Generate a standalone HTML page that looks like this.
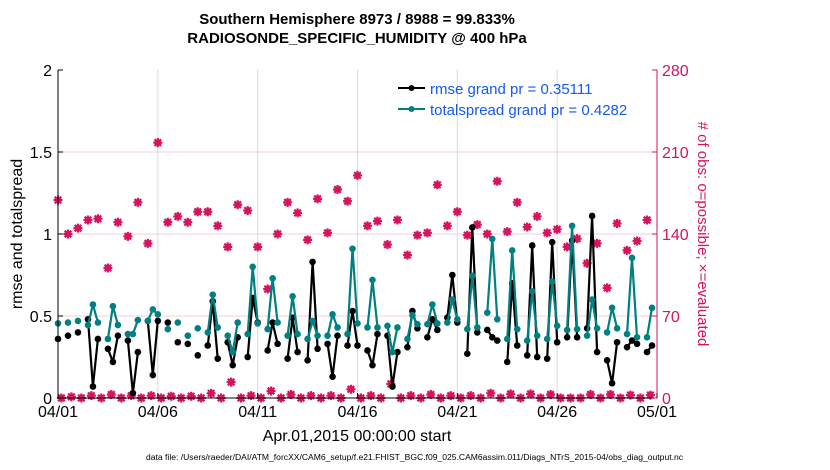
<!DOCTYPE html>
<html><head><meta charset="utf-8"><style>
body{margin:0;background:#fff;}
svg{display:block;font-family:"Liberation Sans",Arial,sans-serif;}
</style></head><body>
<svg id="chart" width="830" height="470" viewBox="0 0 830 470" xmlns="http://www.w3.org/2000/svg">
<g id="grid"></g>
<g id="marks"></g>
<g id="axes"></g>
<text x="357" y="24" text-anchor="middle" font-size="15" font-weight="bold">Southern Hemisphere 8973 / 8988 = 99.833%</text>
<text x="357" y="43" text-anchor="middle" font-size="15" font-weight="bold">RADIOSONDE_SPECIFIC_HUMIDITY @ 400 hPa</text>
<text transform="translate(22,234) rotate(-90)" text-anchor="middle" font-size="16">rmse and totalspread</text>
<text transform="translate(698,234) rotate(90)" text-anchor="middle" font-size="15" fill="#d6135e"># of obs: o=possible; ×=evaluated</text>
<text x="357" y="441" text-anchor="middle" font-size="16">Apr.01,2015 00:00:00 start</text>
<text x="146" y="460" font-size="8" textLength="537" lengthAdjust="spacingAndGlyphs">data file: /Users/raeder/DAI/ATM_forcXX/CAM6_setup/f.e21.FHIST_BGC.f09_025.CAM6assim.011/Diags_NTrS_2015-04/obs_diag_output.nc</text>
<g>
<line x1="398" y1="88" x2="425" y2="88" stroke="#000" stroke-width="2"/><circle cx="411.5" cy="88" r="3" fill="#000"/>
<text x="430" y="94" font-size="15" fill="#1459f0">rmse grand pr = 0.35111</text>
<line x1="398" y1="109" x2="425" y2="109" stroke="#008080" stroke-width="2"/><circle cx="411.5" cy="109" r="3" fill="#008080"/>
<text x="430" y="115" font-size="15" fill="#1459f0">totalspread grand pr = 0.4282</text>
</g>
</svg>
<script>
const slots=[0,2,4,6,7,8,10,11,12,14,15,16,18,19,20,22,24,26,28,30,31,32,34,35,36,38,39,40,42,43,44,46,47,48,50,51,52,54,55,56,58,59,60,62,63,64,66,67,68,70,71,72,74,75,76,78,79,80,82,83,84,86,87,88,90,91,92,94,95,96,98,99,100,102,103,104,106,107,108,110,111,112,114,115,116,118,119];
const rmse=[.36,.38,.40,.48,.07,.36,.30,.22,.38,.35,.03,.28,.47,.14,.47,.46,.34,.33,.26,.32,.59,.24,.34,.20,.37,.25,.61,.46,.29,.46,.33,.24,.49,.28,.23,.83,.30,.33,.13,.38,.32,.53,.32,.29,.20,.39,.38,.07,.28,.31,.53,.425,.37,.48,.415,.49,.75,.46,.27,1.04,.40,.415,.37,.35,.22,.70,.32,.26,.93,.25,.24,.95,.34,.37,.96,.37,.425,1.11,.28,.23,.09,.34,.31,.35,.33,.28,.32];
const spread=[.455,.46,.47,.445,.57,.46,.36,.56,.445,.39,.39,.475,.47,.54,.51,.42,.46,.38,.425,.40,.63,.43,.38,.28,.46,.39,.80,.455,.42,.73,.46,.38,.62,.39,.36,.47,.38,.38,.51,.43,.39,.91,.455,.43,.72,.43,.44,.28,.43,.36,.505,.45,.45,.57,.455,.46,.60,.48,.42,.745,.43,.52,.97,.48,.36,.90,.42,.35,.65,.38,.36,.71,.44,.415,1.05,.42,.38,.60,.425,.40,.55,.425,.39,.855,.37,.37,.55];
const evalCounts=[169,140,145,152,153,111,150,138,167,132,218,150,155,150,159,159,147,129,165,160,129,93,140,167,158,135,170,141,178,168,190,147,151,131,152,122,139,141,182,147,159,139,148,140,185,142,167,146,155,141,144,129,136,115,132,94,149,126,134,152];
const offCounts=[0,1,0,2,0,3,0,2,0,2,0,1.5,0,1.5,0,4,0,13.6,0,2,0,6,0,3,0,2,0,2,0,7.5,0,2,0,12,0,2,0,3,0,2,0,2,0,4,0,3.5,0,3.5,0,3,0,0,0,3,0,3,0,2.5,0,2.5];
const xTicks=["04/01","04/06","04/11","04/16","04/21","04/26","05/01"];
const yTicks=["0","0.5","1","1.5","2"];
const rTicks=["0","70","140","210","280"];

const NS="http://www.w3.org/2000/svg";
const X0=58,X1=657,Y0=398,Y1=70;
const xs=s=>X0+s*(X1-X0)/120;
const yl=v=>Y0-v*(Y0-Y1)/2;
const yr=v=>Y0-v*(Y0-Y1)/280;
function mk(tag,attrs,parent){const e=document.createElementNS(NS,tag);for(const k in attrs)e.setAttribute(k,attrs[k]);parent.appendChild(e);return e;}
const grid=document.getElementById('grid'),marks=document.getElementById('marks'),axes=document.getElementById('axes');
const PINK="#d6135e";
yTicks.forEach((t,i)=>{const v=i*0.5;if(i>0&&i<4){const l=mk('line',{x1:X0,x2:X1,y1:yl(v),y2:yl(v),stroke:'#f6cfdc','stroke-width':1},grid);

}});
xTicks.forEach((t,i)=>{const x=xs(i*20);if(i>0&&i<6){const l=mk('line',{x1:x,x2:x,y1:Y1,y2:Y0,stroke:'#d9d9d9','stroke-width':1},grid);

}});
function star(x,y,name){const g=mk('g',{},marks);


mk('circle',{cx:x,cy:y,r:3.2,fill:PINK},g);
mk('path',{d:`M${x-4.5},${y}H${x+4.5}M${x},${y-4.5}V${y+4.5}M${x-3.3},${y-3.3}L${x+3.3},${y+3.3}M${x-3.3},${y+3.3}L${x+3.3},${y-3.3}`,stroke:PINK,'stroke-width':2.2,fill:'none'},g);}
offCounts.forEach((c,k)=>star(xs(2*k)+3.4,yr(c),'obs-count-offhour'));
evalCounts.forEach((c,k)=>star(xs(2*k),yr(c),'obs-count-evaluated'));
function series(vals,color,name){let d='';slots.forEach((s,i)=>{const cmd=(i>0&&s-slots[i-1]===1)?'L':'M';d+=cmd+xs(s).toFixed(1)+','+yl(vals[i]).toFixed(1);});
const p=mk('path',{d:d,stroke:color,'stroke-width':2.2,fill:'none','stroke-linejoin':'round'},marks);


slots.forEach((s,i)=>{const c=mk('circle',{cx:xs(s),cy:yl(vals[i]),r:3.3,fill:color},marks);

});}
series(rmse,'#000','rmse');
series(spread,'#008080','totalspread');
let a=mk('path',{d:`M${X0},${Y1}V${Y0}H${X1}`,stroke:'#000','stroke-width':1,fill:'none'},axes);


a=mk('line',{x1:X1,x2:X1,y1:Y1,y2:Y0,stroke:PINK,'stroke-width':1},axes);


yTicks.forEach((t,i)=>{const y=yl(i*0.5);mk('line',{x1:X0,x2:X0+5,y1:y,y2:y,stroke:'#000'},axes);
const tx=mk('text',{x:X0-6,y:y+6,'text-anchor':'end','font-size':16},axes);tx.textContent=t;

});
rTicks.forEach((t,i)=>{const y=yr(i*70);mk('line',{x1:X1-5,x2:X1,y1:y,y2:y,stroke:PINK},axes);
const tx=mk('text',{x:X1+5,y:y+6,'font-size':16,fill:PINK},axes);tx.textContent=t;

});
xTicks.forEach((t,i)=>{const x=xs(i*20);mk('line',{x1:x,x2:x,y1:Y0,y2:Y0-5,stroke:'#000'},axes);
const tx=mk('text',{x:x,y:Y0+19,'text-anchor':'middle','font-size':16},axes);tx.textContent=t;

});
</script>
</body></html>
